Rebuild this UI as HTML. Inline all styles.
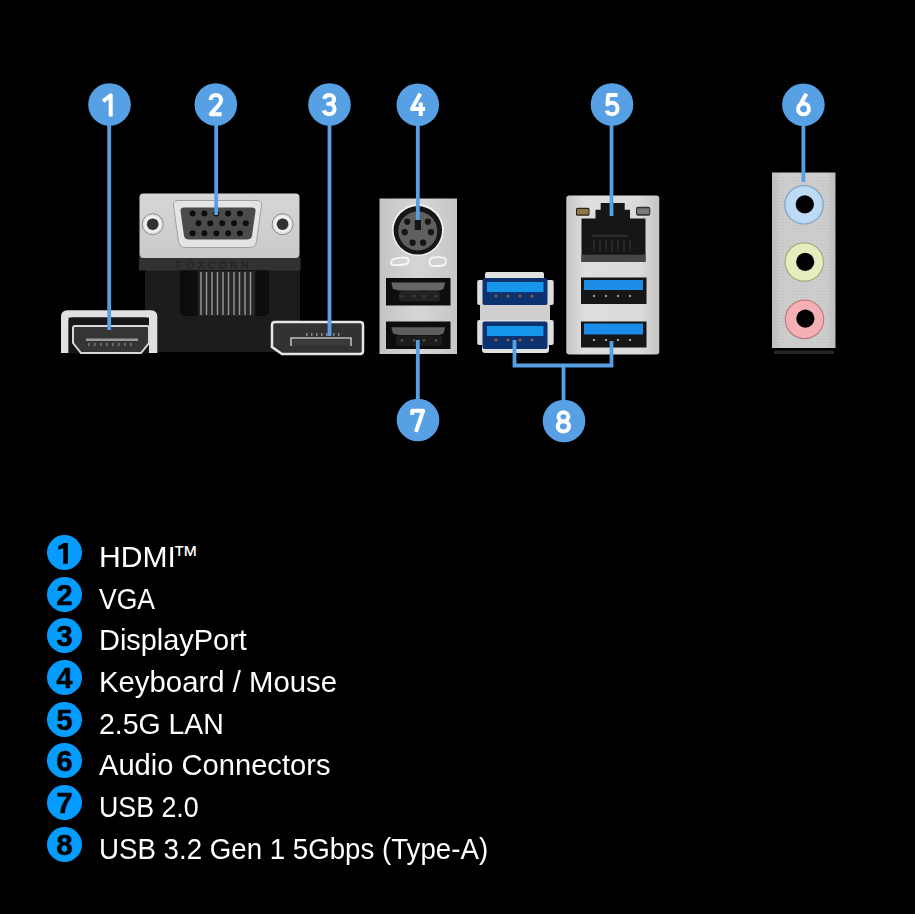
<!DOCTYPE html>
<html><head><meta charset="utf-8">
<style>
html,body{margin:0;padding:0;background:#000;width:915px;height:914px;overflow:hidden}
#dia{position:absolute;left:0;top:0}
.lg{position:absolute;left:0;top:0;width:915px;height:914px}
.num{position:absolute;left:47px;width:35px;height:35px;border-radius:50%;background:#049cff;color:#000;font:bold 29px/37px "Liberation Sans",sans-serif;text-align:center;-webkit-text-stroke:0.5px #000}
.txt{position:absolute;left:98.5px;color:#fff;font:29.5px/34px "Liberation Sans",sans-serif;white-space:nowrap;transform-origin:0 0}
</style></head><body>
<svg id="dia" width="915" height="470" viewBox="0 0 915 470">

<defs>
<filter id="soft" x="-20%" y="-5%" width="140%" height="110%"><feGaussianBlur stdDeviation="0.55"/></filter>
<filter id="soft2" x="-5%" y="-5%" width="110%" height="110%"><feGaussianBlur stdDeviation="0.45"/></filter>
<linearGradient id="silv" x1="0" y1="0" x2="0" y2="1"><stop offset="0" stop-color="#d6d6d6"/><stop offset="1" stop-color="#cacaca"/></linearGradient>
<linearGradient id="silvh" x1="0" y1="0" x2="1" y2="0"><stop offset="0" stop-color="#c4c4c4"/><stop offset="0.5" stop-color="#d6d6d6"/><stop offset="1" stop-color="#c6c6c6"/></linearGradient>
<linearGradient id="silvl" x1="0" y1="0" x2="1" y2="0"><stop offset="0" stop-color="#c6c6c6"/><stop offset="0.2" stop-color="#dedede"/><stop offset="0.8" stop-color="#dadada"/><stop offset="1" stop-color="#c4c4c4"/></linearGradient>
<linearGradient id="aud" x1="0" y1="0" x2="1" y2="0"><stop offset="0" stop-color="#bfbfbf"/><stop offset="0.15" stop-color="#cdcdcd"/><stop offset="0.85" stop-color="#cdcdcd"/><stop offset="1" stop-color="#bdbdbd"/></linearGradient>
<pattern id="dots" width="3" height="3" patternUnits="userSpaceOnUse"><rect width="3" height="3" fill="none"/><rect x="0" y="0" width="1" height="1" fill="#b4b4b4"/></pattern>
</defs>
<!-- VGA body -->
<g id="vga" filter="url(#soft2)">
<rect x="145" y="258" width="155" height="94" fill="#1f1f1f"/>
<rect x="139" y="257" width="161.5" height="13.5" fill="#333"/>
<g fill="#262626" font-family="Liberation Sans, sans-serif" font-weight="bold" font-size="11" letter-spacing="3"><text x="176" y="268.5">FOXCONN</text></g>
<path d="M180,270.5 H269 V310 Q269,316 263,316 H186 Q180,316 180,310 Z" fill="#070707"/>
<rect x="152" y="272" width="22" height="26" fill="#1c1c1c"/>
<rect x="273" y="272" width="22" height="26" fill="#1c1c1c"/>
<rect x="198" y="271" width="57" height="45" fill="#262626"/>
<g stroke="#949494" stroke-width="1.5">
<line x1="201" y1="272" x2="201" y2="315"/><line x1="206.5" y1="272" x2="206.5" y2="315"/><line x1="212" y1="272" x2="212" y2="315"/><line x1="217.5" y1="272" x2="217.5" y2="315"/><line x1="223" y1="272" x2="223" y2="315"/><line x1="228.5" y1="272" x2="228.5" y2="315"/><line x1="234" y1="272" x2="234" y2="315"/><line x1="239.5" y1="272" x2="239.5" y2="315"/><line x1="245" y1="272" x2="245" y2="315"/><line x1="250.5" y1="272" x2="250.5" y2="315"/>
</g>
<rect x="139.5" y="193.5" width="160" height="64.5" rx="4" fill="url(#silv)"/>
<path d="M178,200.5 L257,200.5 Q262.5,200.5 261.5,206 L256.5,241.5 Q255.5,247.5 249.5,247.5 L185.5,247.5 Q179.5,247.5 178.5,241.5 L173.5,206 Q172.5,200.5 178,200.5 Z" fill="#e4e4e4" stroke="#a0a0a0" stroke-width="1"/>
<path d="M184,207.5 L252,207.5 Q256,207.5 255.5,211 L252,236 Q251,239.5 247,239.5 L189,239.5 Q185,239.5 184,236 L180.5,211 Q180,207.5 184,207.5 Z" fill="#4c4c4c"/>
<g fill="#0e0e0e">
<circle cx="192.6" cy="213.5" r="3"/><circle cx="204.4" cy="213.5" r="3"/><circle cx="216.3" cy="213.5" r="3"/><circle cx="228.1" cy="213.5" r="3"/><circle cx="239.9" cy="213.5" r="3"/>
<circle cx="198.5" cy="223.3" r="3"/><circle cx="210.3" cy="223.3" r="3"/><circle cx="222.2" cy="223.3" r="3"/><circle cx="234" cy="223.3" r="3"/><circle cx="245.8" cy="223.3" r="3"/>
<circle cx="192.6" cy="233.2" r="3"/><circle cx="204.4" cy="233.2" r="3"/><circle cx="216.3" cy="233.2" r="3"/><circle cx="228.1" cy="233.2" r="3"/><circle cx="239.9" cy="233.2" r="3"/>
</g>
<path d="M146,219 L149,213.5 L156,213.5 L159.5,219 L159.5,229.6 L156,235 L149,235 L146,229.6 Z" fill="#dcdcdc"/>
<circle cx="152.7" cy="224.2" r="10.5" fill="#e2e2e2" stroke="#8a8a8a" stroke-width="1"/>
<circle cx="152.7" cy="224.2" r="7.5" fill="none" stroke="#f4f4f4" stroke-width="1.5"/>
<circle cx="152.7" cy="224.2" r="5.8" fill="#333"/>
<circle cx="282.6" cy="224.2" r="10.5" fill="#e2e2e2" stroke="#8a8a8a" stroke-width="1"/>
<circle cx="282.6" cy="224.2" r="7.5" fill="none" stroke="#f4f4f4" stroke-width="1.5"/>
<circle cx="282.6" cy="224.2" r="5.8" fill="#333"/>
</g>
<!-- HDMI -->
<g id="hdmi" filter="url(#soft2)">
<path d="M61,353 V316.8 Q61,310.3 67.5,310.3 H151 Q157.3,310.3 157.3,316.8 V353 H149 V321.6 Q149,317.6 145,317.6 H72.6 Q68.6,317.6 68.6,321.6 V353 Z" fill="#e0e0e0"/>
<rect x="68.6" y="317.6" width="80.4" height="36" fill="#121212"/>
<path d="M75,326 L147,326 Q149,326 149,328 L149,343 L141,353 L81,353 L73,343 L73,328 Q73,326 75,326 Z" fill="#353535" stroke="#d8d8d8" stroke-width="2"/>
<rect x="86" y="338.5" width="52" height="2.5" fill="#9a9a9a"/>
<g fill="#777"><rect x="88" y="343" width="1.5" height="3"/><rect x="94" y="343" width="1.5" height="3"/><rect x="100" y="343" width="1.5" height="3"/><rect x="106" y="343" width="1.5" height="3"/><rect x="112" y="343" width="1.5" height="3"/><rect x="118" y="343" width="1.5" height="3"/><rect x="124" y="343" width="1.5" height="3"/><rect x="130" y="343" width="1.5" height="3"/></g>
</g>
<!-- DP -->
<g id="dp" filter="url(#soft2)">
<path d="M275,322 L360,322 Q363,322 363,325 L363,351 Q363,354 360,354 L282,354 L272,347 L272,325 Q272,322 275,322 Z" fill="#303030" stroke="#e6e6e6" stroke-width="2.5"/>
<path d="M291,346 L291,338 L351,338 L351,346" fill="none" stroke="#bdbdbd" stroke-width="1.6"/>
<rect x="292.5" y="339.5" width="57" height="6" fill="#3a3a3a"/>
<g fill="#888"><rect x="306" y="333" width="1.5" height="3"/><rect x="311" y="333" width="1.5" height="3"/><rect x="316" y="333" width="1.5" height="3"/><rect x="321" y="333" width="1.5" height="3"/><rect x="326" y="333" width="1.5" height="3"/><rect x="333" y="333" width="1.5" height="3"/><rect x="338" y="333" width="1.5" height="3"/></g>
</g>
<!-- PS2 + USB2 -->
<g id="ps2" filter="url(#soft2)">
<rect x="379.5" y="198.5" width="77.5" height="155.5" fill="url(#silvh)"/>
<circle cx="417.8" cy="230" r="26" fill="#f0f0f0"/>
<circle cx="417.8" cy="230.3" r="24.2" fill="#151515"/>
<circle cx="417.8" cy="231" r="19.5" fill="#5e5e5e"/>
<g fill="#121212">
<rect x="414.7" y="220" width="6.2" height="10"/>
<circle cx="407.3" cy="221.7" r="3.1"/><circle cx="427.9" cy="221.7" r="3.1"/>
<circle cx="404.7" cy="232.2" r="3.1"/><circle cx="430.9" cy="232.2" r="3.1"/>
<circle cx="412.6" cy="242.7" r="3.1"/><circle cx="423.1" cy="242.7" r="3.1"/>
</g>
<path d="M391,263.5 q0,-4 4,-5 q6,-1.5 12,-0.5 q2,0.5 1.5,3 q-0.5,3 -4,3.5 q-6,1 -11,0.5 q-2.5,-0.3 -2.5,-1.5 Z" fill="#d4d4d4" stroke="#f6f6f6" stroke-width="1.8"/>
<path d="M429.5,262.5 q0,-4.5 4,-5 q6,-1 10.5,0.5 q2.5,1 2,4 q-0.5,3 -3.5,3.5 q-5,0.8 -10,0.3 q-3,-0.3 -3,-3.3 Z" fill="#d0d0d0" stroke="#f4f4f4" stroke-width="1.8"/>
<rect x="386" y="278" width="64.5" height="27.5" fill="#0c0c0c"/>
<path d="M391.3,282.6 H445.2 L443.5,289 L439.5,290.5 H399 L393,289 Z" fill="#666"/>
<rect x="399" y="291" width="41" height="10.5" rx="3" fill="#202020"/>
<g fill="#3a3a3a"><circle cx="402" cy="296" r="1.6"/><circle cx="414" cy="296" r="1.6"/><circle cx="424" cy="296" r="1.6"/><circle cx="436" cy="296" r="1.6"/></g>
<rect x="386" y="321.5" width="64.5" height="27.5" fill="#0c0c0c"/>
<path d="M391.3,327.2 H445.2 L443.5,333.4 L439.5,335 H399 L393,333.4 Z" fill="#5e5e5e"/>
<rect x="396" y="335.5" width="46" height="10.5" rx="2" fill="#1c1c1c"/>
<g fill="#4a4a4a"><circle cx="402" cy="340.5" r="1.4"/><circle cx="414" cy="340.5" r="1.4"/><circle cx="424" cy="340.5" r="1.4"/><circle cx="436" cy="340.5" r="1.4"/></g>
</g>
<!-- USB3 stack -->
<g id="usb3" filter="url(#soft2)">
<rect x="485" y="272" width="59" height="8" rx="2" fill="#e2e2e2"/>
<rect x="477.2" y="280" width="76.5" height="25" rx="2" fill="#dedede"/>
<rect x="480" y="304" width="70" height="17" fill="#cfcfcf"/>
<rect x="477.2" y="320" width="76.5" height="25" rx="2" fill="#dedede"/>
<rect x="482" y="343" width="67" height="10" rx="3" fill="#e0e0e0"/>
<rect x="482.5" y="278" width="65" height="27" rx="2" fill="#0c3170"/>
<rect x="487" y="282" width="56.5" height="10" fill="#1596ea"/>
<rect x="482.5" y="321.5" width="65" height="27.5" rx="2" fill="#0c3170"/>
<rect x="487" y="326" width="56.5" height="10" fill="#1596ea"/>
<g fill="#8a5a3a"><circle cx="496" cy="296" r="1.6"/><circle cx="508" cy="296" r="1.6"/><circle cx="520" cy="296" r="1.6"/><circle cx="532" cy="296" r="1.6"/>
<circle cx="496" cy="340" r="1.6"/><circle cx="508" cy="340" r="1.6"/><circle cx="520" cy="340" r="1.6"/><circle cx="532" cy="340" r="1.6"/></g>
</g>
<!-- LAN stack -->
<g id="lan" filter="url(#soft2)">
<rect x="566.3" y="195.6" width="93" height="159" rx="3" fill="url(#silvl)"/>
<path d="M600.7,203 H624.7 V209.7 H630 V218.5 H645.5 V262 H581.5 V218.5 H595.5 V209.7 H600.7 Z" fill="#141414"/>
<rect x="581.5" y="254.6" width="64" height="7.4" fill="#454545"/>
<rect x="592" y="234.5" width="36" height="2.5" fill="#2a2a2a"/>
<g stroke="#2c2c2c" stroke-width="1.5"><line x1="594" y1="240" x2="594" y2="252"/><line x1="600" y1="240" x2="600" y2="252"/><line x1="606" y1="240" x2="606" y2="252"/><line x1="612" y1="240" x2="612" y2="252"/><line x1="618" y1="240" x2="618" y2="252"/><line x1="624" y1="240" x2="624" y2="252"/><line x1="630" y1="240" x2="630" y2="252"/></g>
<rect x="576" y="207.7" width="13.5" height="8" rx="1.5" fill="#2a2418"/><rect x="577" y="209" width="11.5" height="5.4" fill="#8f7646"/>
<rect x="636" y="206.7" width="14.3" height="9" rx="2" fill="#333"/><rect x="637.2" y="208.3" width="12" height="5.8" fill="#7a7a7a"/>
<rect x="581" y="277.5" width="65.5" height="26.5" fill="#121212"/>
<rect x="584" y="280" width="59" height="10" fill="#1a8ce8"/>
<rect x="581" y="321.5" width="65.5" height="26" fill="#121212"/>
<rect x="584" y="323.5" width="59" height="11" fill="#1a8ce8"/>
<g fill="#9a9a9a"><circle cx="594" cy="296" r="1.3"/><circle cx="606" cy="296" r="1.3"/><circle cx="618" cy="296" r="1.3"/><circle cx="630" cy="296" r="1.3"/>
<circle cx="594" cy="340" r="1.3"/><circle cx="606" cy="340" r="1.3"/><circle cx="618" cy="340" r="1.3"/><circle cx="630" cy="340" r="1.3"/></g>
</g>
<!-- Audio -->
<g id="audio" filter="url(#soft2)">
<rect x="772" y="172.5" width="63.5" height="175.5" fill="url(#aud)"/>
<rect x="772" y="172.5" width="63.5" height="175.5" fill="url(#dots)" opacity="0.5"/>
<rect x="774" y="350.5" width="60" height="3.5" fill="#262626"/>
<circle cx="804" cy="204.8" r="19.2" fill="#bcdaf3" stroke="#7fa2c2" stroke-width="1.2"/>
<circle cx="804.8" cy="204.4" r="9.1" fill="#050505"/>
<circle cx="804.3" cy="262" r="19.2" fill="#e4edbd" stroke="#a6ab78" stroke-width="1.2"/>
<circle cx="805.2" cy="261.9" r="9.1" fill="#050505"/>
<circle cx="804.5" cy="319.4" r="19.2" fill="#f4b0b4" stroke="#bd7d80" stroke-width="1.2"/>
<circle cx="805.4" cy="318.6" r="9.1" fill="#050505"/>
</g>
<!-- callout lines -->
<g stroke="#58a0e4" stroke-width="3.8" fill="none" filter="url(#soft)">
<line x1="109.2" y1="110" x2="109.2" y2="330"/>
<line x1="216.2" y1="110" x2="216.2" y2="215"/>
<line x1="329.5" y1="110" x2="329.5" y2="336"/>
<line x1="417.8" y1="110" x2="417.8" y2="220"/>
<line x1="611.5" y1="110" x2="611.5" y2="216"/>
<line x1="803.4" y1="110" x2="803.4" y2="182"/>
<line x1="417.8" y1="340" x2="417.8" y2="415"/>
<path d="M514.5,340 L514.5,365.5 L611.5,365.5 L611.5,341 M563.5,365.5 L563.5,415"/>
</g>

<g fill="#58a0e4">
<circle cx="109.5" cy="104.5" r="21.3"/>
<circle cx="215.8" cy="104.5" r="21.3"/>
<circle cx="329.5" cy="104.5" r="21.3"/>
<circle cx="417.8" cy="104.8" r="21.3"/>
<circle cx="612" cy="104.5" r="21.3"/>
<circle cx="803.4" cy="104.7" r="21.3"/>
<circle cx="418" cy="420" r="21.3"/>
<circle cx="564" cy="421" r="21.3"/>
</g>
<g fill="none" stroke="#fff" stroke-width="3.8" stroke-linejoin="round">
<path transform="translate(108.3,105.0) scale(1.05) translate(-7,-11)" d="M2.0,7.4 L9.3,1.9 V22"/>
<path transform="translate(215.8,104.5) scale(1.05) translate(-7,-11)" d="M2.1,6.6 C2.1,3.6 4.3,1.9 7,1.9 C9.9,1.9 12,3.8 12,6.6 C12,8.6 11.2,9.9 9.8,11.5 L2.2,20.2 H12.6"/>
<path transform="translate(329.0,104.5) scale(1.05) translate(-7,-11)" d="M2.2,5.6 C3,3.1 4.8,1.9 7.1,1.9 C10,1.9 11.8,3.8 11.8,6.1 C11.8,8.6 10,10.4 7.2,10.4 H6 H7.2 C10.4,10.4 12.3,12.6 12.3,15.3 C12.3,18.3 10,20.2 7.1,20.2 C4.6,20.2 2.7,18.9 1.9,16.6"/>
<path transform="translate(417.3,104.5) scale(1.05) translate(-7,-11)" d="M9.8,0.6 L1.9,15.2 H14.4 M10.3,9.0 V22"/>
<path transform="translate(612.0,104.5) scale(1.05) translate(-7,-11)" d="M12.3,1.9 H3.4 L2.6,11 C3.6,9.9 5.1,9.3 7,9.3 C10.2,9.3 12.3,11.5 12.3,14.7 C12.3,18.2 10,20.2 7.1,20.2 C4.6,20.2 2.7,18.9 1.9,16.8"/>
<path transform="translate(803.4,104.7) scale(1.05) translate(-7,-11)" d="M9.8,0.6 L3.6,11.8 M12.3,15 A5.2,5.2 0 1,1 1.9,15 A5.2,5.2 0 1,1 12.3,15 Z"/>
<path transform="translate(417.6,420.3) scale(1.05) translate(-7,-11)" d="M1.9,6 V1.9 H12.3 L5.4,22"/>
<path transform="translate(563.4,421.8) scale(1.05) translate(-7,-11)" d="M11.7,6.3 A4.7,4.3 0 1,1 2.3,6.3 A4.7,4.3 0 1,1 11.7,6.3 Z M12.4,15.4 A5.4,4.8 0 1,1 1.6,15.4 A5.4,4.8 0 1,1 12.4,15.4 Z"/>
</g>
</svg>
<div class="lg">
<div class="num" style="top:534.9px"><svg width="35" height="35" viewBox="0 0 35 35" style="position:absolute;left:0;top:0"><path d="M11.3,11.3 L16.7,8.1 H20.9 V28.8 H16.2 V13.3 L11.3,14.8 Z" fill="#000"/></svg></div><div class="txt" style="left:98.9px;top:540.0px;transform:scaleX(1.02)">HDMI</div>
<div class="num" style="top:576.6px">2</div><div class="txt" style="left:98.5px;top:581.7px;transform:scaleX(0.9)">VGA</div>
<div class="num" style="top:618.3px">3</div><div class="txt" style="left:98.5px;top:623.4px;transform:scaleX(0.98)">DisplayPort</div>
<div class="num" style="top:660.0px">4</div><div class="txt" style="left:98.5px;top:665.1px;transform:scaleX(0.994)">Keyboard / Mouse</div>
<div class="num" style="top:701.7px">5</div><div class="txt" style="left:98.5px;top:706.8px;transform:scaleX(0.964)">2.5G LAN</div>
<div class="num" style="top:743.4px">6</div><div class="txt" style="left:98.5px;top:747.5px;transform:scaleX(0.987)">Audio Connectors</div>
<div class="num" style="top:785.1px">7</div><div class="txt" style="left:98.5px;top:790.2px;transform:scaleX(0.907)">USB 2.0</div>
<div class="num" style="top:826.8px">8</div><div class="txt" style="left:98.5px;top:831.9px;transform:scaleX(0.938)">USB 3.2 Gen 1 5Gbps (Type-A)</div>
<div class="txt" style="left:172.6px;top:538.4px;font-size:26px">™</div>
</div>
</body></html>
